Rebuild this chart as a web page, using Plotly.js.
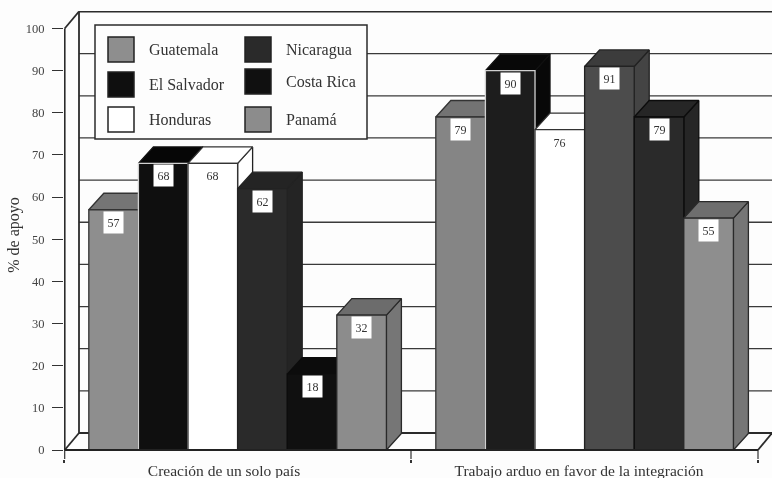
<!DOCTYPE html>
<html><head><meta charset="utf-8">
<script src="https://cdn.plot.ly/plotly-3.0.1.min.js"></script>
<style>html,body{margin:0;padding:0;background:#fdfdfd}#c{width:772px;height:478px;filter:blur(0.5px)}</style>
</head><body><div id="c"></div>
<script>
const categories = ["Creación de un solo país", "Trabajo arduo en favor de la integración"];
const seriesNames = ["Guatemala", "El Salvador", "Honduras", "Nicaragua", "Costa Rica", "Panamá"];
const guatemala = [57, 79];
const elSalvador = [68, 90];
const honduras = [68, 76];
const nicaragua = [62, 91];
const costaRica = [18, 79];
const panama = [32, 55];
const allValues = [guatemala, elSalvador, honduras, nicaragua, costaRica, panama];
const yTicks = [0,10,20,30,40,50,60,70,80,90,100];

// per-series, per-group shades: [front, top, side]
const shades = [
  [["#8e8e8e","#757575","#757575"],["#858585","#737373","#737373"]],
  [["#0f0f0f","#060606","#060606"],["#1d1d1d","#080808","#080808"]],
  [["#ffffff","#ffffff","#ffffff"],["#ffffff","#ffffff","#ffffff"]],
  [["#2a2a2a","#242424","#242424"],["#4c4c4c","#3c3c3c","#444444"]],
  [["#101010","#0c0c0c","#0c0c0c"],["#2a2a2a","#262626","#262626"]],
  [["#8c8c8c","#6c6c6c","#767676"],["#8e8e8e","#6e6e6e","#767676"]]
];
const edges = ["#333333","#d0d0d0","#333333","#222222","#0c0c0c","#2a2a2a"];

const W=772, H=478, L=64, B=19, T=11, zeroPx=450;
const pxX = 347;               // px per category band
const pxY = 4.215;             // px per y unit
const xMax = (W-L)/pxX, yMax = (zeroPx-T)/pxY, yMin = -(H-B-zeroPx)/pxY;
const dX = 15/pxX, dY = 17/pxY, dYbar = 16.5/pxY;
const barW = 49.6/pxX, pad = 0.0715;

const traces = [];
const line = (x,y,w,c) => traces.push({type:"scatter",mode:"lines",x,y,line:{color:c||"#2b2b2b",width:w||1.3},hoverinfo:"skip",showlegend:false});
const poly = (name,x,y,fc,lc) => traces.push({type:"scatter",mode:"lines",name,x:x.concat(x[0]),y:y.concat(y[0]),fill:"toself",fillcolor:fc,line:{color:lc,width:1.3},hoverinfo:"skip",showlegend:false});

// walls, floor, gridlines
yTicks.slice(1,-1).forEach(v => line([dX,xMax],[v+dY,v+dY],1.3,"#3a3a3a"));
line([0.002,0.002],[0,100],1.8);
line([dX,dX],[dY,100+dY],1.8);
line([0.002,dX],[100,100+dY],1.8);
line([dX,xMax],[100+dY,100+dY],1.8);
line([0.002,dX],[0,dY],1.8);
line([dX,xMax],[dY,dY],1.8);
line([2,xMax],[0,dY],1.8);
[0.002,1,2].forEach(x => line([x,x],[0,yMin],1.2,"#333"));

// bars, left to right
const annots = [];
categories.forEach((cat,g) => {
  allValues.forEach((vals,s) => {
    const v = vals[g], x0 = g + pad + s*barW, x1 = x0 + barW, c = shades[s][g], e = edges[s], n = seriesNames[s];
    poly(n, [x1,x1+dX,x1+dX,x1],[0,dYbar,v+dYbar,v], c[2], s===2?"#222":(s===1?"#111":e));
    poly(n, [x0,x1,x1+dX,x0+dX],[v,v,v+dYbar,v+dYbar], c[1], s===1?"#111":e);
    poly(n, [x0,x1,x1,x0],[0,0,v,v], c[0], e);
    annots.push({x:(x0+x1)/2,y:v,xref:"x",yref:"y",text:String(v),showarrow:false,yshift:-12.5,width:19,height:21,
      bgcolor:"#ffffff",borderpad:0,font:{family:"Liberation Serif",size:12,color:"#333"}});
  });
});
line([0.002,2],[0,0],2,"#222");

// legend drawn on top of the plot (window pixels converted to the plot's paper coordinates)
const legendOrder = [[0,108,37],[1,108,72],[2,108,107],[3,245,37],[4,245,69],[5,245,107]];
const qx = v => (v-L)/(W-L), qy = v => 1-(v-T)/(H-B-T);
const legendShapes = [{type:"rect",xref:"paper",yref:"paper",layer:"above",x0:qx(95),x1:qx(367),y0:qy(139),y1:qy(25),fillcolor:"#fdfdfd",line:{color:"#2b2b2b",width:1.5}}];
legendOrder.forEach(([s,x,y]) => {
  legendShapes.push({type:"rect",xref:"paper",yref:"paper",layer:"above",x0:qx(x),x1:qx(x+26),y0:qy(y+25),y1:qy(y),
    fillcolor:shades[s][0][0],line:{color:"#222",width:1.5}});
  annots.push({xref:"paper",yref:"paper",x:qx(x+39),y:qy(y+12.5),xanchor:"left",yanchor:"middle",showarrow:false,text:seriesNames[s],
    font:{family:"Liberation Serif",size:16,color:"#333"}});
});

Plotly.newPlot("c",traces,{
  width:W,height:H,margin:{l:L,r:0,t:T,b:B,pad:0},
  paper_bgcolor:"#fdfdfd",plot_bgcolor:"rgba(0,0,0,0)",showlegend:false,
  font:{family:"Liberation Serif",color:"#333"},
  xaxis:{range:[0,xMax],showgrid:false,zeroline:false,showline:false,automargin:false,
    tickmode:"array",tickvals:[(224-L)/pxX,(579-L)/pxX],ticktext:categories,
    ticks:"",tickfont:{family:"Liberation Serif",size:15.5,color:"#333"},
    minor:{tickmode:"array",tickvals:[0,1,2],ticks:"outside",ticklen:3,tickwidth:1.2,tickcolor:"#333",showgrid:false}},
  yaxis:{range:[yMin,yMax],showgrid:false,zeroline:false,showline:false,automargin:false,
    tickmode:"array",tickvals:yTicks,ticks:"outside",ticklen:11,tickwidth:1,tickcolor:"#333",ticklabelstandoff:5,
    tickfont:{family:"Liberation Serif",size:12.5,color:"#444"},
    title:{text:"% de apoyo",font:{family:"Liberation Serif",size:16,color:"#333"},standoff:2}},
  shapes:legendShapes,annotations:annots
},{displayModeBar:false,staticPlot:true});
</script>
</body></html>
